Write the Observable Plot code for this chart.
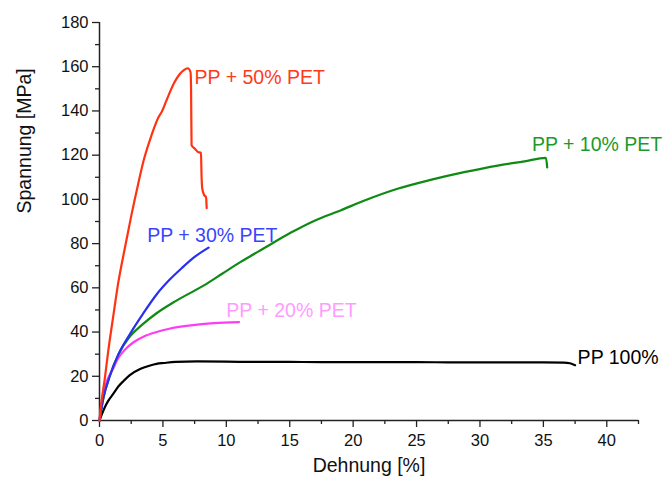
<!DOCTYPE html>
<html><head><meta charset="utf-8">
<script src="https://cdn.jsdelivr.net/npm/d3@7"></script>
<script src="https://cdn.jsdelivr.net/npm/@observablehq/plot@0.6"></script>
<style>body{margin:0;background:#fff} svg{display:block}</style>
</head><body><div id="chart"></div>
<script>
// Dehnung [%] , Spannung [MPa]
const pp100 = [[0,0],[0.2,3],[0.42,6],[0.7,9],[1.08,12],[1.5,15.5],[1.92,18],[2.39,20.5],[3.24,23.4],[4.0,24.9],[4.5,25.6],[5.08,26],[6,26.5],[7.7,26.7],[10,26.6],[12.5,26.5],[15,26.5],[17.5,26.4],[20,26.4],[22.5,26.4],[25,26.4],[27.5,26.3],[30,26.3],[32.5,26.3],[35,26.3],[36.6,26.2],[37.1,25.9],[37.5,25]];
const pp10 = [[0,0],[0.3,10],[0.8,20],[1.5,30],[2.39,38],[3.3,43],[4.5,48.5],[6,54],[8.2,61],[9.7,66.5],[11.1,71.6],[13,78],[15.1,85],[17,90.5],[19,95],[20.9,99.5],[23.5,104.8],[26.1,108.8],[28.75,112.3],[31.4,115.3],[33.5,117.2],[35.2,118.8],[35.3,114.5]];
const pp20 = [[0,0],[0.15,7],[0.34,13],[0.6,18],[1.08,23.5],[1.4,27.5],[2.0,32],[2.71,35.5],[3.5,38],[4.5,40],[5.5,41.5],[7.2,43],[9,44],[11,44.5]];
const pp30 = [[0,0],[0.3,10],[0.81,20],[1.5,30],[2.39,39],[3.4,48],[4.5,57],[5.5,63.5],[6.5,69],[7.5,74],[8.6,78.2]];
const pp50 = [[0,0],[0.1,6],[0.42,19],[0.68,31],[1.08,47],[1.47,62],[2.0,78],[2.52,93],[3.05,107],[3.5,118],[4.1,129],[4.68,137.5],[4.9,139.5],[5.3,145],[5.87,152.5],[6.3,156.5],[6.65,158.5],[6.97,159.3],[7.18,157.5],[7.22,150],[7.26,124.5],[7.5,123],[7.75,121.5],[8.0,121],[8.05,110],[8.1,105],[8.25,102],[8.4,101],[8.45,96]];

const seriesData = [pp100, pp10, pp20, pp30, pp50];
const seriesNames = ["PP 100%", "PP + 10% PET", "PP + 20% PET", "PP + 30% PET", "PP + 50% PET"];
const lineColors = ["#000000", "#0f8a14", "#ff3cf5", "#2830f0", "#ff3311"];
const labelColors = ["#000000", "#1a9a2a", "#ff9cff", "#3a44ff", "#ff3a1a"];
// label anchor positions (data units)
const labelX = [37.7, 34.1, 10.0, 3.76, 7.5];
const labelY = [28.3, 124.8, 49.5, 83.4, 155.1];

const xMajorTicks = [0,5,10,15,20,25,30,35,40];
const xMinorTicks = [2.5,7.5,12.5,17.5,22.5,27.5,32.5,37.5,42.5];
const yMajorTicks = [0,20,40,60,80,100,120,140,160,180];
const yMinorTicks = [10,30,50,70,90,110,130,150,170];
const xTitle = "Dehnung [%]";
const yTitle = "Spannung [MPa]";

const axisColor = "#222";
const marks = [
  Plot.axisX({ticks: xMinorTicks, tickSize: 4, tickFormat: () => "", label: null, stroke: axisColor, strokeWidth: 1.3}),
  Plot.axisX({ticks: xMajorTicks, tickSize: 7, tickPadding: 7, label: null, stroke: axisColor, strokeWidth: 1.3, fill: "#111"}),
  Plot.axisY({ticks: yMinorTicks, tickSize: 4, tickFormat: () => "", label: null, stroke: axisColor, strokeWidth: 1.3}),
  Plot.axisY({ticks: yMajorTicks, tickSize: 7, tickPadding: 4, label: null, stroke: axisColor, strokeWidth: 1.3, fill: "#111"}),
  Plot.ruleY([0], {stroke: axisColor, strokeWidth: 1.5}),
  Plot.ruleX([0], {stroke: axisColor, strokeWidth: 1.5}),
];
seriesData.forEach((d, i) => {
  marks.push(Plot.line(d, {x: p => p[0], y: p => p[1], stroke: lineColors[i], strokeWidth: 2.2, curve: "monotone-x"}));
});
seriesData.forEach((d, i) => {
  marks.push(Plot.text([seriesNames[i]], {x: () => labelX[i], y: () => labelY[i], text: t => t, fill: labelColors[i], textAnchor: "start", fontSize: 19.5}));
});
marks.push(Plot.text([xTitle], {frameAnchor: "bottom", dy: 51, text: t => t, fontSize: 19.5, fill: "#111"}));
marks.push(Plot.text([yTitle], {frameAnchor: "left", dx: -75, dy: -8, rotate: -90, text: t => t, fontSize: 19.5, fill: "#111"}));

const chart = Plot.plot({
  width: 665, height: 481,
  marginLeft: 99, marginRight: 27, marginTop: 22, marginBottom: 61,
  x: {domain: [0, 42.5]},
  y: {domain: [0, 180]},
  style: {fontFamily: "'Liberation Sans', Arial, sans-serif", fontSize: "16.5px", background: "#fff", color: "#111"},
  marks
});
document.getElementById("chart").appendChild(chart);
</script>
</body></html>
